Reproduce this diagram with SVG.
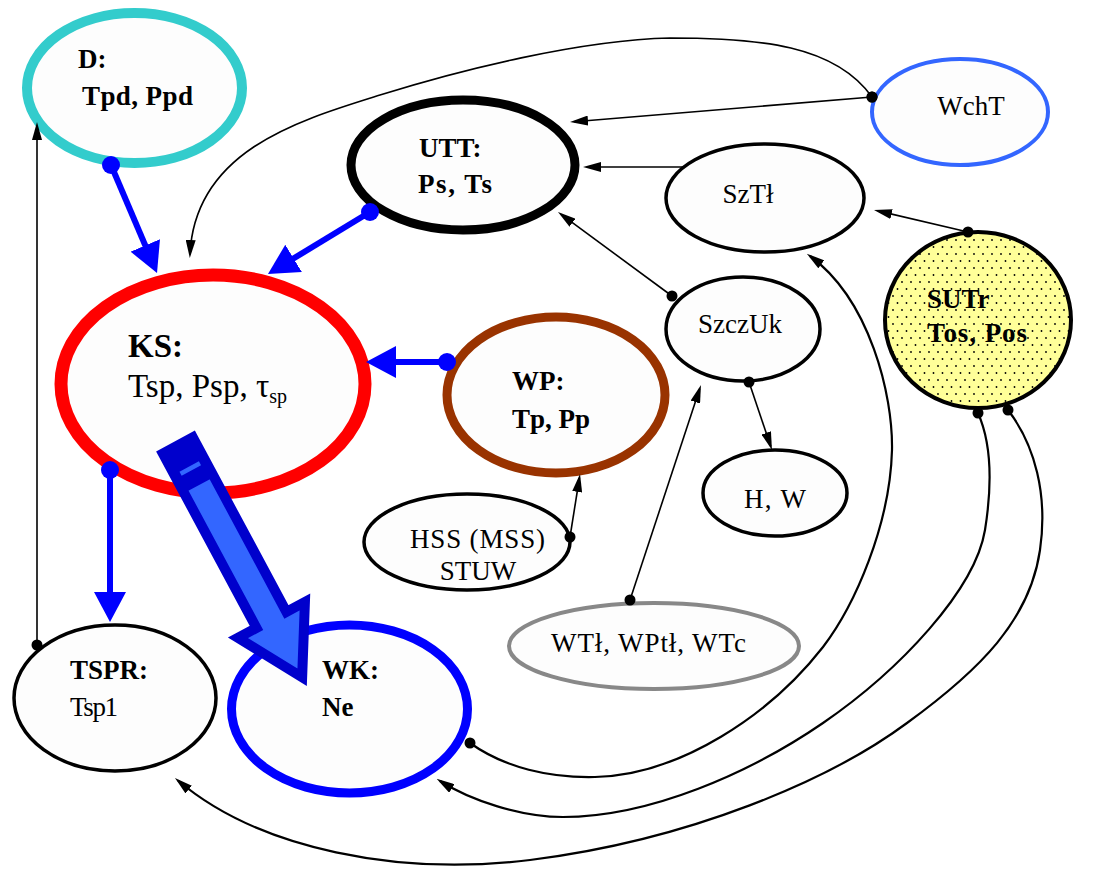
<svg xmlns="http://www.w3.org/2000/svg" width="1094" height="869" viewBox="0 0 1094 869">
<defs>
<style>
.t{font-family:"Liberation Serif","Times New Roman",serif;font-size:27px;fill:#000}
.b{font-weight:bold}
.n{fill:#FDFDFD}
.bl{stroke:#0000FF;stroke-width:6;fill:none;marker-start:url(#bdot);marker-end:url(#bhead)}
.k{stroke:#000;stroke-width:1.6;fill:none;marker-start:url(#kdot);marker-end:url(#khead)}
.kc{stroke:#000;stroke-width:2.2;fill:none;marker-start:url(#kdot);marker-end:url(#khead)}
</style>
<marker id="bhead" viewBox="0 0 30 32" refX="20" refY="16" markerWidth="30" markerHeight="32" markerUnits="userSpaceOnUse" orient="auto"><path d="M0,0 L30,16 L0,32 z" fill="#0000FF"/></marker>
<marker id="khead" viewBox="0 0 18 10" refX="14" refY="5" markerWidth="18" markerHeight="10" markerUnits="userSpaceOnUse" orient="auto"><path d="M0,0 L18,5 L0,10 z" fill="#000"/></marker>
<marker id="kdot" viewBox="-6 -6 12 12" refX="0" refY="0" markerWidth="12" markerHeight="12" markerUnits="userSpaceOnUse"><circle r="5.5" fill="#000"/></marker>
<marker id="bdot" viewBox="-10 -10 20 20" refX="0" refY="0" markerWidth="20" markerHeight="20" markerUnits="userSpaceOnUse"><circle r="9" fill="#0000FF"/></marker>
<pattern id="dots" width="9" height="14" patternUnits="userSpaceOnUse"><rect width="9" height="14" fill="#FFFF99"/><circle cx="2" cy="2" r="0.9" fill="#000"/><circle cx="6.5" cy="9" r="0.9" fill="#000"/></pattern>
</defs>
<rect width="1094" height="869" fill="#FFFFFF"/>

<g id="D"><ellipse class="n" cx="134.5" cy="88" rx="107.5" ry="75" stroke="#33CCCC" stroke-width="10"/>
<text class="t b" x="78" y="68">D:</text><text class="t b" x="82" y="105" textLength="111" lengthAdjust="spacing">Tpd, Ppd</text></g>

<g id="UTT"><ellipse class="n" cx="463" cy="165" rx="112" ry="65" stroke="#000" stroke-width="9"/>
<text class="t b" x="419" y="157">UTT:</text><text class="t b" x="418" y="193" textLength="74" lengthAdjust="spacing">Ps, Ts</text></g>

<g id="WchT"><ellipse class="n" cx="960" cy="112" rx="88" ry="53" stroke="#3366FF" stroke-width="4"/>
<text class="t" x="971" y="115" text-anchor="middle">WchT</text></g>

<g id="SzTl"><ellipse class="n" cx="765" cy="198" rx="99" ry="54" stroke="#000" stroke-width="3.5"/>
<text class="t" x="748" y="203" text-anchor="middle">SzTł</text></g>

<g id="SUTr"><ellipse cx="978" cy="320" rx="93" ry="88" fill="url(#dots)" stroke="#000" stroke-width="4"/>
<text class="t b" x="927" y="308">SUTr</text><text class="t b" x="927" y="342" textLength="100" lengthAdjust="spacing">Tos, Pos</text></g>

<g id="SzczUk"><ellipse class="n" cx="743" cy="329" rx="77" ry="52" stroke="#000" stroke-width="3.5"/>
<text class="t" x="740" y="333" text-anchor="middle">SzczUk</text></g>

<g id="KS"><ellipse class="n" cx="213" cy="384" rx="152" ry="109" stroke="#FF0000" stroke-width="13"/>
<text class="t b" x="128" y="357" style="font-size:33px">KS:</text>
<text class="t" x="128" y="397" style="font-size:33px">Tsp, Psp, τ<tspan dy="6" style="font-size:20px">sp</tspan></text></g>

<g id="WP"><ellipse class="n" cx="556" cy="395" rx="109" ry="78" stroke="#993300" stroke-width="9"/>
<text class="t b" x="512" y="390">WP:</text><text class="t b" x="512" y="428">Tp, Pp</text></g>

<g id="HW"><ellipse class="n" cx="775" cy="493" rx="72" ry="43" stroke="#000" stroke-width="3.5"/>
<text class="t" x="744" y="508" textLength="62" lengthAdjust="spacing">H, W</text></g>

<g id="HSS"><ellipse class="n" cx="467" cy="542" rx="103" ry="48" stroke="#000" stroke-width="3.5"/>
<text class="t" x="410" y="548" textLength="135" lengthAdjust="spacing">HSS (MSS)</text>
<text class="t" x="478" y="580" text-anchor="middle">STUW</text></g>

<g id="WTl"><ellipse class="n" cx="654" cy="646" rx="145" ry="43" stroke="#888888" stroke-width="4"/>
<text class="t" x="551" y="652" textLength="195" lengthAdjust="spacing">WTł, WPtł, WTc</text></g>

<g id="TSPR"><ellipse class="n" cx="115" cy="698" rx="101" ry="73" stroke="#000" stroke-width="3.5"/>
<text class="t b" x="70" y="679">TSPR:</text><text class="t" x="70" y="716" textLength="48" lengthAdjust="spacing">Tsp1</text></g>

<g id="WK"><ellipse class="n" cx="349.5" cy="709" rx="118" ry="84" stroke="#0000FF" stroke-width="9"/>
<text class="t b" x="322" y="679">WK:</text><text class="t b" x="322" y="716">Ne</text></g>

<g id="connectors">
<path class="bl" d="M111,165 L153.1,263.8"/>
<path class="bl" d="M370,212 L276.5,268.8"/>
<path class="bl" d="M447,362 L376,362"/>
<path class="bl" d="M110,470 L110,612"/>

<path class="k" d="M37,645 L37,126"/>
<path class="k" d="M872,97 L574,121.7"/>
<path class="k" d="M684,167 L587,167" style="marker-start:none"/>
<path class="k" d="M968,232 L877.9,210.9"/>
<path class="k" d="M672,296 L561.2,214.4"/>
<path class="k" d="M749,382 L770.7,446.2"/>
<path class="k" d="M570,537 L579.4,478"/>
<path class="k" d="M630,600 L699.7,388.8"/>

<path class="k" d="M872,97 C835,45 760,38 670,38 C580,40 460,70 380,95 C300,120 195,150 190,254"/>
<path class="kc" d="M470,743 C505,768 550,778 595,777 C680,775 770,715 823,647 C855,605 890,525 892,450 C893,395 870,300 810,256"/>
<path class="kc" d="M978,413 C990,440 993,480 985,530 C975,590 900,670 823,723 C750,773 650,817 563,817 C520,817 470,800 440,781"/>
<path class="kc" d="M1008,410 C1035,445 1048,495 1040,550 C1030,620 980,670 907,723 C830,780 690,840 530,860 C400,876 260,850 178,780.5"/>

<g id="bigArrow" transform="translate(175.5,441) rotate(61.8)">
<polygon points="5,-17 203,-17 203,-38 268,0 203,38 203,17 5,17" fill="#3366FF" stroke="#0000CC" stroke-width="10" stroke-linejoin="miter" stroke-miterlimit="10"/>
<rect x="5" y="-17" width="45" height="34" fill="#0000CC"/>
<rect x="29" y="-11" width="4.5" height="22" fill="#3366FF"/>
</g>
</g>
</svg>
